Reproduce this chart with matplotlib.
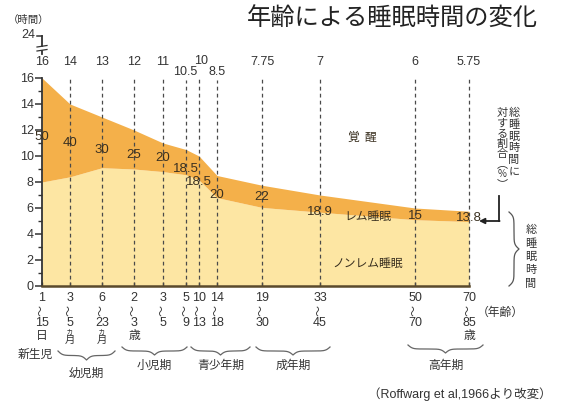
import matplotlib
matplotlib.use('Agg')
import matplotlib.pyplot as plt
import matplotlib.transforms as mtransforms
import numpy as np

plt.rcParams['font.family'] = ['Noto Sans CJK JP', 'DejaVu Sans']
NUMF = ['Liberation Sans', 'DejaVu Sans']

# ---------------- data ----------------
total_hours = [16, 14, 13, 12, 11, 10.5, 10, 8.5, 7.75, 7, 6, 5.75]
rem_percent = [50, 40, 30, 25, 20, 18.5, 18.5, 20, 22, 18.9, 15, 13.8]
total_labels = ['16', '14', '13', '12', '11', '10.5', '10', '8.5', '7.75', '7', '6', '5.75']
rem_labels = ['50', '40', '30', '25', '20', '18.5', '18.5', '20', '22', '18.9', '15', '13.8']
age_from = ['1', '3', '6', '2', '3', '5', '10', '14', '19', '33', '50', '70']
age_to = ['15', '5', '23', '3', '5', '9', '13', '18', '30', '45', '70', '85']
age_unit = ['日', 'ヵ月', 'ヵ月', '歳', '', '', '', '', '', '', '', '歳']
groups = ['幼児期', '小児期', '青少年期', '成年期', '高年期']
yticks = [0, 2, 4, 6, 8, 10, 12, 14, 16]

# ---------------- layout ----------------
positions = [0, 28, 60, 92, 121, 144, 157, 175, 220, 278, 373, 427]
top_label_row = [62, 62, 62, 62, 62, 72, 61, 72, 62, 62, 62, 62]   # pixel rows
top_label_dx = [0, 0, 0, 0, 0, -1, 2, 0, 0, 0, 0, 0]
rem_label_py = [137, 143, 150, 155, 158, 169, 182, 195, 197, 212, 216, 218]
group_brace = [(58, 115, 351, 9, 373), (122, 187, 347, 8, 365), (191, 250, 347, 8, 365),
               (256, 330, 347, 8, 365), (408, 483, 345, 8, 365)]

W, H = 562, 417
orange = '#F4B04A'
light = '#FDE6A3'
txt = '#333333'

total = np.array(total_hours)
nonrem = total * (1 - np.array(rem_percent) / 100.0)

fig = plt.figure(figsize=(W / 100, H / 100), dpi=100)
ax = fig.add_axes([42 / W, 1 - 286 / H, (469 - 42) / W, (286 - 78) / H])
ax.set_xlim(0, 427)
ax.set_ylim(0, 16)
ax.patch.set_visible(False)

ax.fill_between(positions, 0, nonrem, color=light, lw=0, zorder=1)
ax.fill_between(positions, nonrem, total, color=orange, lw=0, zorder=1)

for s in ['top', 'right']:
    ax.spines[s].set_visible(False)
ax.spines['left'].set_bounds(0, 16)
ax.spines['left'].set_color('#333333')
ax.spines['left'].set_linewidth(1.3)
ax.spines['bottom'].set_color('#5a4a2c')
ax.spines['bottom'].set_linewidth(1.8)
ax.spines['left'].set_zorder(5)
ax.spines['bottom'].set_zorder(5)

ax.set_yticks(yticks)
ax.set_yticklabels([str(v) for v in yticks], family=NUMF)
ax.set_yticks([1, 3, 5, 7, 9, 11, 13, 15], minor=True)
ax.tick_params(axis='y', which='major', direction='out', length=5, width=1.1,
               labelsize=9, pad=1, colors='#333333', labelcolor=txt)
ax.tick_params(axis='y', which='minor', direction='out', length=3, width=1, colors='#333333')
ax.set_xticks(positions)
ax.tick_params(axis='x', direction='in', length=3, width=1, colors='#5a4a2c', labelbottom=False)

# overlay in pixel coordinates for annotations
ov = fig.add_axes([0, 0, 1, 1])
ov.set_xlim(0, W)
ov.set_ylim(H, 0)
ov.axis('off')
ov.patch.set_visible(False)

bt = mtransforms.blended_transform_factory(ax.transData, ov.transData)

# dashed vertical lines
for i, p in enumerate(positions[1:], start=1):
    top_px = 76 if top_label_row[i] < 70 else 80
    ax.plot([p, p], [0, (286 - top_px) / 13.0], ls=(0, (3, 2.6)), color='#4a4a4a',
            lw=0.9, clip_on=False, zorder=3)

# top labels (total sleep hours)
for p, lab, row, dx in zip(positions, total_labels, top_label_row, top_label_dx):
    ax.text(p + dx, row, lab, transform=bt, ha='center', va='center', fontsize=9, color=txt,
            family=NUMF)

# REM % labels
for p, lab, py in zip(positions, rem_labels, rem_label_py):
    ax.text(p, py, lab, transform=bt, ha='center', va='center', fontsize=9.5, color='#3a3020',
            family=NUMF, zorder=6)

# age labels
for p, a, b, u in zip(positions, age_from, age_to, age_unit):
    ax.text(p, 298, a, transform=bt, ha='center', va='center', fontsize=9, color=txt,
            family=NUMF)
    ax.text(p, 310.5, '〜', transform=bt, ha='center', va='center', fontsize=8, color=txt,
            rotation=90)
    ax.text(p, 323, b, transform=bt, ha='center', va='center', fontsize=9, color=txt,
            family=NUMF)
    if u == 'ヵ月':
        ax.text(p, 332, 'ヵ', transform=bt, ha='center', va='center', fontsize=5.5, color=txt)
        ax.text(p, 339.5, '月', transform=bt, ha='center', va='center', fontsize=7.5, color=txt)
    elif u:
        ax.text(p, 336, u, transform=bt, ha='center', va='center', fontsize=8.5, color=txt)

# axis extension above 16 with break
ov.plot([42, 42], [36, 46], color='#333333', lw=1.3)
ov.plot([42, 42], [50.5, 54], color='#333333', lw=1.3)
ov.plot([37, 42], [36, 36], color='#333333', lw=1.1)
ov.plot([37, 47], [47, 45.5], color='#333333', lw=0.9)
ov.plot([37, 47], [51, 49.5], color='#333333', lw=0.9)
ov.text(35, 35, '24', ha='right', va='center', fontsize=9, color=txt, family=NUMF)
ov.text(29, 20, '（時間）', ha='center', va='center', fontsize=7.5, color=txt)

# title
ov.text(392, 18, '年齢による睡眠時間の変化', ha='center', va='center', fontsize=17.5, color='#222222')

# region labels
ov.text(362, 137, '覚  醒', ha='center', va='center', fontsize=8.5, color='#3a3020')
ov.text(368, 216, 'レム睡眠', ha='center', va='center', fontsize=8.5, color='#3a3020')
ov.text(368, 263, 'ノンレム睡眠', ha='center', va='center', fontsize=8.5, color='#3a3020')


def hbrace(x0, x1, y, h):
    L = x1 - x0
    n = 100
    xh = np.linspace(0, L / 2, n)
    k = 0.45
    yh = 1 / (1 + np.exp(-k * (xh - xh[0]))) + 1 / (1 + np.exp(-k * (xh - xh[-1])))
    yy = np.concatenate((yh, yh[-2::-1])) - 0.5
    xx = np.linspace(x0, x1, len(yy))
    ov.plot(xx, y + h * yy, color='#666666', lw=0.9)


def vbrace(y0, y1, x, w):
    L = y1 - y0
    n = 100
    yh = np.linspace(0, L / 2, n)
    k = 0.45
    xh = 1 / (1 + np.exp(-k * (yh - yh[0]))) + 1 / (1 + np.exp(-k * (yh - yh[-1])))
    xx = np.concatenate((xh, xh[-2::-1])) - 0.5
    yy = np.linspace(y0, y1, len(xx))
    ov.plot(x + w * xx, yy, color='#555555', lw=0.9)


for g, (x0, x1, y, h, ly) in zip(groups, group_brace):
    hbrace(x0, x1, y, h)
    ov.text((x0 + x1) / 2, ly, g, ha='center', va='center', fontsize=8.5, color=txt)

ov.text(35, 354, '新生児', ha='center', va='center', fontsize=8.5, color=txt)
ov.text(500, 312, '（年齢）', ha='center', va='center', fontsize=8.5, color=txt)
ov.text(460, 394, '（Roffwarg et al,1966より改変）', ha='center', va='center', fontsize=9,
        color=txt, family=['Liberation Sans', 'Noto Sans CJK JP'])

# right side vertical texts
col1 = '総睡眠時間に'
col2 = ['対', 'す', 'る', '割', '合', '︵', '%', '︶']
for i, c in enumerate(col1):
    ov.text(514, 113 + i * 11.8, c, ha='center', va='center', fontsize=8, color=txt)
for i, c in enumerate(col2):
    ov.text(502, 113 + i * 10.2, c, ha='center', va='center', fontsize=8 if c != '%' else 7,
            color=txt)
ov.plot([499, 499], [196, 221], color='#222222', lw=1.3)
ov.annotate('', xy=(479, 221), xytext=(499.6, 221),
            arrowprops=dict(arrowstyle='-|>', color='#222222', lw=1.3, mutation_scale=8,
                            shrinkA=0, shrinkB=0))
vbrace(212, 286, 509, 10)
for i, c in enumerate('総睡眠時間'):
    ov.text(531, 230 + i * 13.5, c, ha='center', va='center', fontsize=8, color=txt)

fig.savefig('out.png', dpi=100)
